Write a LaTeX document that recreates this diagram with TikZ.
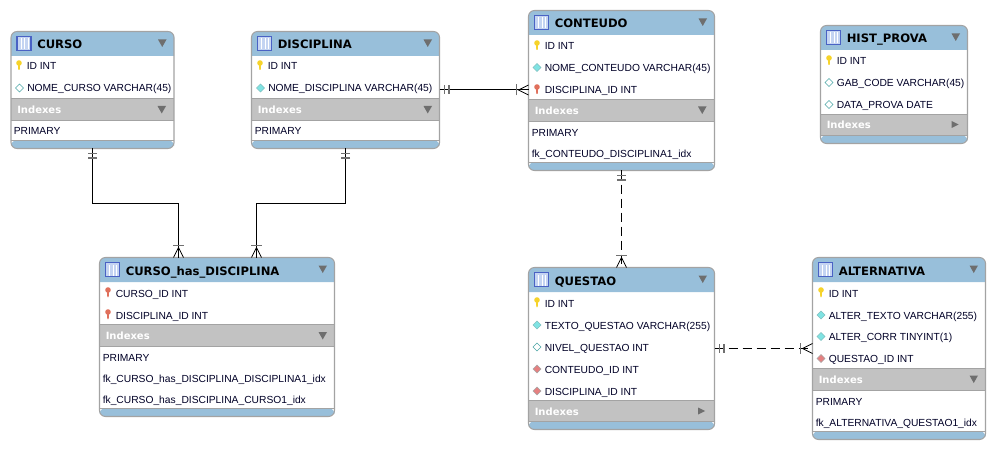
\documentclass[tikz,border=0pt]{standalone}
\usepackage{fontspec}
\setmainfont{Liberation Sans}
\newfontfamily\titlefont{DejaVu Sans}
\usetikzlibrary{calc}

\definecolor{headblue}{HTML}{98BFDA}
\definecolor{indexgrey}{HTML}{C2C2C2}
\definecolor{edgegrey}{HTML}{A3A3A3}
\definecolor{trigrey}{HTML}{6E6E6E}
\definecolor{tickgrey}{HTML}{707070}
\definecolor{keyyellow}{HTML}{F6D32A}
\definecolor{keyred}{HTML}{E0705C}
\definecolor{cyanfill}{HTML}{7FE3E3}
\definecolor{redfill}{HTML}{E58080}
\definecolor{iconblue}{HTML}{4A62C4}
\definecolor{iconfill}{HTML}{C4D4F2}

\tikzset{
	tablebox/.style={draw=edgegrey,line width=0.8pt,rounded corners=4.5pt,inner sep=0,outer sep=0},
	titletext/.style={anchor=base west,inner sep=0,font=\titlefont\bfseries\fontsize{8.7}{10}\selectfont},
	rowtext/.style={anchor=base west,inner sep=0,text=black!85!blue,font=\fontsize{7.7}{10}\selectfont},
	indextext/.style={anchor=base west,inner sep=0,text=white,font=\titlefont\bfseries\fontsize{7.5}{10}\selectfont},
	link/.style={line width=0.75pt},
	dashlink/.style={line width=0.75pt,dash pattern=on 7pt off 3.5pt},
	pics/keyy/.style={code={
		\fill[keyyellow] (-1,-3)--(1,-3)--(0.7,4)--(-0.7,4)--cycle;
		\fill[keyyellow] (0,-3) circle (2.8);}},
	pics/keyr/.style={code={
		\fill[keyred] (-1,-3)--(1,-3)--(0.7,4)--(-0.7,4)--cycle;
		\fill[keyred] (0,-3) circle (2.8);}},
	pics/dcyan/.style={code={
		\filldraw[draw=teal!50,fill=cyanfill,line width=0.5pt] (-4,0)--(0,-4)--(4,0)--(0,4)--cycle;}},
	pics/dwhite/.style={code={
		\filldraw[draw=teal!70,fill=white,line width=0.5pt] (-4,0)--(0,-4)--(4,0)--(0,4)--cycle;}},
	pics/dred/.style={code={
		\filldraw[draw=gray!70,fill=redfill,line width=0.5pt] (-4,0)--(0,-4)--(4,0)--(0,4)--cycle;}},
	pics/tbicon/.style={code={
		\filldraw[draw=iconblue,fill=iconfill,line width=0.8pt] (0,0) rectangle (14,14);
		\foreach \c in {4,7.5,11}
		\draw[white,line width=0.5pt] (\c,2)--(\c,13);}},
	pics/onebars/.style={code={
		\draw[tickgrey,line width=1.2pt] (5,-4.5)--(5,4.5);
		\draw[tickgrey,line width=1.2pt] (9.5,-4.5)--(9.5,4.5);}},
	pics/manyfoot/.style={code={
		\draw[tickgrey,line width=1.2pt] (12,-5.5)--(12,5.5);
		\draw[line width=0.6pt] (0,-5)--(10,0)--(0,5);}},
}

\begin{document}
\begin{tikzpicture}[x=0.75pt,y=-0.75pt]
	\useasboundingbox (0,0) rectangle (995,449);

	%bands and box of each table
	\foreach \name/\x/\y/\w/\h/\ibar/\title in {
		curso/11/31.5/163/117/67/CURSO,
		disciplina/251.5/31.5/188/117/67/DISCIPLINA,
		conteudo/528.5/10.5/186/160/89/CONTEUDO,
		hist/820.5/25.5/147/118/88.5/HIST\_PROVA,
		cursodisc/99.5/257.5/235/159/67/CURSO\_has\_DISCIPLINA,
		questao/528.5/267.5/186/162/132.5/QUESTAO,
		alternativa/812.5/257.5/173/182/111/ALTERNATIVA}
	{
		\fill[headblue,rounded corners=4.5pt] (\x,\y+24.5)--(\x,\y)--(\x+\w,\y)--(\x+\w,\y+10)[sharp corners]--(\x+\w,\y+24.5)--cycle;
		\fill[indexgrey] (\x,\y+\ibar) rectangle (\x+\w,\y+\ibar+21.3);
		\fill[headblue,rounded corners=4.5pt] (\x,\y+\h-8.4)--(\x+\w,\y+\h-8.4)--(\x+\w,\y+\h)--(\x,\y+\h)--cycle;
		\draw[edgegrey] (\x,\y+\ibar)--(\x+\w,\y+\ibar);
		\draw[edgegrey] (\x,\y+\ibar+21.3)--(\x+\w,\y+\ibar+21.3);
		\draw[edgegrey] (\x,\y+\h-8.4)--(\x+\w,\y+\h-8.4);
		\node[tablebox,anchor=north west,minimum width=\w*0.75pt,minimum height=\h*0.75pt] (\name) at (\x,\y) {};
		\pic at (\x+6,\y+5) {tbicon};
		\node[titletext] (\name-title) at (\x+26,\y+17.5) {\title};
		\node[indextext] (\name-index) at (\x+6,\y+\ibar+15) {Indexes};
		\fill[trigrey] (\x+\w-16,\y+8)--(\x+\w-7.5,\y+8)--(\x+\w-11.75,\y+15.5)--cycle;
	}

	%triangles in the index bars
	\foreach \xa/\ya in {157.5/106,423.5/106,698/106.5,318.5/332,969.5/375.5}
	\fill[trigrey] (\xa,\ya)--(\xa+8.5,\ya)--(\xa+4.25,\ya+7.5)--cycle;
	\foreach \xa/\ya in {951.7/121,698/407.5}
	\fill[trigrey] (\xa,\ya)--(\xa+7,\ya+3.5)--(\xa,\ya+7)--cycle;

	%columns
	\foreach \kind/\xa/\ya/\txt [count=\i] in {
		keyy/19/66/ID INT,
		dwhite/19.5/88/NOME\_CURSO VARCHAR(45),
		keyy/260/66/ID INT,
		dcyan/260.5/88/NOME\_DISCIPLINA VARCHAR(45),
		keyy/537/46/ID INT,
		dcyan/537/67.5/NOME\_CONTEUDO VARCHAR(45),
		keyr/537/90/DISCIPLINA\_ID INT,
		keyy/829/61/ID INT,
		dwhite/829/82.5/GAB\_CODE VARCHAR(45),
		dwhite/829/104.5/DATA\_PROVA DATE,
		keyr/108/293/CURSO\_ID INT,
		keyr/108/315/DISCIPLINA\_ID INT,
		keyy/537/303/ID INT,
		dcyan/537/325/TEXTO\_QUESTAO VARCHAR(255),
		dwhite/537/347/NIVEL\_QUESTAO INT,
		dred/537/369/CONTEUDO\_ID INT,
		dred/537/391/DISCIPLINA\_ID INT,
		keyy/821/293/ID INT,
		dcyan/821/315/ALTER\_TEXTO VARCHAR(255),
		dcyan/821/336.5/ALTER\_CORR TINYINT(1),
		dred/821/358.5/QUESTAO\_ID INT}
	{
		\pic at (\xa,\ya) {\kind};
		\node[rowtext] (col\i) at (\xa+7.5,\ya+4) {\txt};
	}

	%index rows
	\foreach \xa/\ya/\txt [count=\i] in {
		13.5/130.5/PRIMARY,
		254.5/130.5/PRIMARY,
		531.5/132/PRIMARY,
		531.5/153/fk\_CONTEUDO\_DISCIPLINA1\_idx,
		102.5/357/PRIMARY,
		102.5/378/fk\_CURSO\_has\_DISCIPLINA\_DISCIPLINA1\_idx,
		102.5/399/fk\_CURSO\_has\_DISCIPLINA\_CURSO1\_idx,
		815.5/400.5/PRIMARY,
		815.5/422/fk\_ALTERNATIVA\_QUESTAO1\_idx}
	\node[rowtext] (idx\i) at (\xa,\ya+4.5) {\txt};

	%relations
	\draw[link] (curso.south)--++(0,55)-|([shift={(-38.5,0)}]cursodisc.north);
	\draw[link] (disciplina.south)--++(0,55)-|([shift={(39.5,0)}]cursodisc.north);
	\draw[link] (disciplina.east)--(disciplina.east-|conteudo.west);
	\draw[dashlink] (conteudo.south)--(questao.north);
	\draw[dashlink] (questao.east)--(questao.east-|alternativa.west);

	%ends of the relations
	\pic[rotate=-90] at (curso.south) {onebars};
	\pic[rotate=-90] at (disciplina.south) {onebars};
	\pic at (disciplina.east) {onebars};
	\pic[rotate=-90] at (conteudo.south) {onebars};
	\pic at (questao.east) {onebars};
	\pic[rotate=90] at ([shift={(-38.5,0)}]cursodisc.north) {manyfoot};
	\pic[rotate=90] at ([shift={(39.5,0)}]cursodisc.north) {manyfoot};
	\pic[rotate=180] at (disciplina.east-|conteudo.west) {manyfoot};
	\pic[rotate=90] at (questao.north) {manyfoot};
	\pic[rotate=180] at (questao.east-|alternativa.west) {manyfoot};
\end{tikzpicture}
\end{document}
